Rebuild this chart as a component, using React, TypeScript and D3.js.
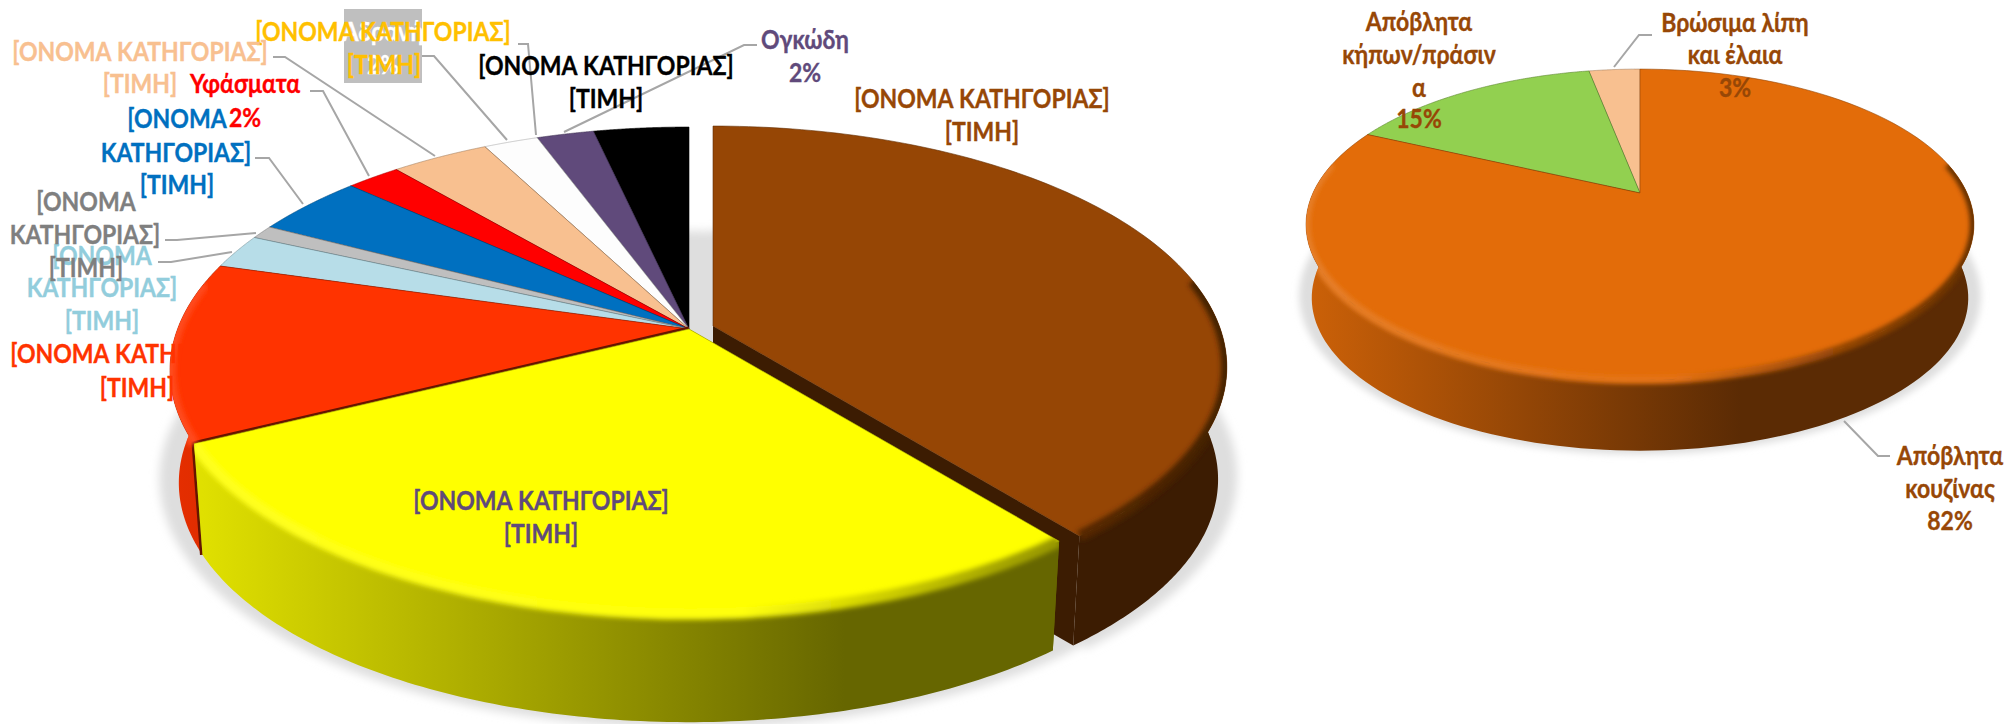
import React from 'react';
import * as d3 from 'd3';

const width = 2011;
const height = 724;

// Left pie, clockwise from the top.
const wasteColors = ['#964605', '#FFFF00', '#FF3300', '#B7DDE8', '#BFBFBF', '#0070C0', '#FF0000', '#F8C090', '#FDFDFD', '#604A7B', '#000000'];
const wasteShares = [39.2, 28.4, 11.9, 2.3, 0.9, 4.1, 2.0, 3.6, 2.0, 2.1, 3.5];

// Right pie, clockwise from the top.
const organicColors = ['#E36C09', '#92D050', '#F8C090'];
const organicShares = [82, 15, 3];

const GREY = '#A6A6A6';
const PLACEHOLDER = '[ΟΝΟΜΑ ΚΑΤΗΓΟΡΙΑΣ]';

// [text, x, y, color] (y is the centre of the line)
const labelLines: [string, number, number, string][] = [
  [PLACEHOLDER, 982, 98, '#974706'],
  ['[ΤΙΜΗ]', 982, 131, '#974706'],
  ['Ογκώδη', 805, 39, '#604A7B'],
  ['2%', 805, 72, '#604A7B'],
  [PLACEHOLDER, 606, 65, '#000000'],
  ['[ΤΙΜΗ]', 606, 98, '#000000'],
  ['Αδρανή', 383, 31, '#FFFFFF'],
  ['2%', 383, 64, '#FFFFFF'],
  [PLACEHOLDER, 383, 31, '#FFC000'],
  ['[ΤΙΜΗ]', 384, 64, '#FFC000'],
  [PLACEHOLDER, 140, 51, '#F8C090'],
  ['[ΤΙΜΗ]', 140, 83, '#F8C090'],
  ['Υφάσματα', 245, 83, '#FF0000'],
  ['2%', 245, 117, '#FF0000'],
  ['[ΟΝΟΜΑ', 177, 118, '#0070C0'],
  ['ΚΑΤΗΓΟΡΙΑΣ]', 176, 152, '#0070C0'],
  ['[ΤΙΜΗ]', 177, 184, '#0070C0'],
  ['[ΟΝΟΜΑ', 102, 255, '#92CDDC'],
  ['ΚΑΤΗΓΟΡΙΑΣ]', 102, 287, '#92CDDC'],
  ['[ΤΙΜΗ]', 102, 320, '#92CDDC'],
  ['[ΟΝΟΜΑ', 86, 201, '#7F7F7F'],
  ['ΚΑΤΗΓΟΡΙΑΣ]', 85, 234, '#7F7F7F'],
  ['[ΤΙΜΗ]', 86, 267, '#7F7F7F'],
  [PLACEHOLDER, 138, 353, '#FF3300'],
  ['[ΤΙΜΗ]', 137, 387, '#FF3300'],
  [PLACEHOLDER, 541, 500, '#604A7B'],
  ['[ΤΙΜΗ]', 541, 533, '#604A7B'],
  ['Απόβλητα', 1419, 21, '#974706'],
  ['κήπων/πράσιν', 1419, 54, '#974706'],
  ['α', 1419, 87, '#974706'],
  ['15%', 1419, 118, '#974706'],
  ['Βρώσιμα λίπη', 1735, 22, '#974706'],
  ['και έλαια', 1735, 54, '#974706'],
  ['3%', 1735, 87, '#974706'],
  ['Απόβλητα', 1950, 455, '#974706'],
  ['κουζίνας', 1950, 488, '#974706'],
  ['82%', 1950, 520, '#974706'],
];

const leaders: [number, number][][] = [
  [[273, 57], [285, 57], [435, 156]],
  [[310, 91], [323, 91], [369, 176]],
  [[255, 158], [269, 158], [303, 204]],
  [[165, 240], [177, 240], [256, 233]],
  [[158, 262], [171, 262], [232, 252]],
  [[422, 56], [434, 56], [507, 140]],
  [[518, 44], [528, 44], [536, 135]],
  [[757, 45], [744, 45], [564, 132]],
  [[1614, 67], [1639, 35], [1652, 35]],
  [[1844, 421], [1878, 456], [1890, 456]],
];

// Projection of a tilted disc: the far side shrinks, so the centre of the pie
// sits above the middle of the drawn ellipse.
type Disc = { cx: number; cy: number; rx: number; ry: number; k: number };

const project = (d: Disc, a: number): [number, number] => {
  const u = Math.sin(a);
  const v = Math.cos(a);
  const w = 1 + d.k * v;
  return [d.cx + (d.rx * u) / w, d.cy - (d.ry * v) / w];
};

const arcPoints = (d: Disc, a0: number, a1: number) =>
  d3.range(0, 121).map(i => project(d, a0 + ((a1 - a0) * i) / 120));

const line = d3.line();

const lowerPlane = (d: Disc, depth: number, scale: number): Disc => ({
  ...d,
  cy: d.cy + depth,
  rx: d.rx * scale,
  ry: d.ry * scale,
});

// Outer wall runs over the part of the rim that faces the viewer.
const wallPath = (top: Disc, bottom: Disc, a0: number, a1: number) => {
  const from = Math.max(a0, Math.PI / 2 - 0.2);
  const to = Math.min(a1, (3 * Math.PI) / 2 + 0.2);
  if (from >= to) return null;
  return line([...arcPoints(top, from, to), ...arcPoints(bottom, from, to).reverse()]) + 'Z';
};

const facePath = (d: Disc, a0: number, a1: number) =>
  line([[d.cx, d.cy], ...arcPoints(d, a0, a1)]) + 'Z';

const cutPath = (top: Disc, bottom: Disc, a: number) =>
  line([[top.cx, top.cy], project(top, a), project(bottom, a), [bottom.cx, bottom.cy]]) + 'Z';

type Slice = { color: string; a0: number; a1: number; top: Disc; bottom: Disc };

function Pie3D({ id, disc, depth, shares, colors, offsets, order, rimWidth, creased }: {
  id: string;
  disc: Disc;
  depth: number;
  shares: number[];
  colors: string[];
  offsets: Record<number, { dx: number; dy: number; scale: number }>;
  order: number[];
  rimWidth: number;
  creased: number[];
}) {
  const arcs = d3.pie<number>().sort(null)(shares);
  const slices: Slice[] = arcs.map((arc, i) => {
    const o = offsets[i] ?? { dx: 0, dy: 0, scale: 1 };
    const top: Disc = { ...disc, cx: disc.cx + o.dx, cy: disc.cy + o.dy, rx: disc.rx * o.scale, ry: disc.ry * o.scale };
    return { color: colors[i], a0: arc.startAngle, a1: arc.endAngle, top, bottom: lowerPlane(top, depth, 0.983) };
  });

  const edge = disc.rx / Math.sqrt(1 - disc.k * disc.k);
  const x0 = disc.cx - edge;
  const x1 = disc.cx + edge * 0.3;
  const shadowDepth = depth * 0.955;
  const floor = lowerPlane(disc, shadowDepth, 1.02);
  const dark = (c: string, t: number) => d3.interpolateRgb(c, '#000')(t);
  const light = (c: string, t: number) => d3.interpolateRgb(c, '#fff')(t);

  return (
    <g>
      <defs>
        <filter id={`${id}-soft`} x="-10%" y="-10%" width="120%" height="120%">
          <feGaussianBlur stdDeviation={rimWidth / 1.6} />
        </filter>
        <filter id={`${id}-rim`} x="-10%" y="-10%" width="120%" height="120%">
          <feGaussianBlur stdDeviation={rimWidth / 3} />
        </filter>
        {slices.map((s, i) => (
          <React.Fragment key={i}>
            <linearGradient id={`${id}-wall-${i}`} gradientUnits="userSpaceOnUse" x1={x0} x2={x1} y1={0} y2={0}>
              <stop offset="0" stopColor={dark(s.color, 0.1)} />
              <stop offset="1" stopColor={dark(s.color, 0.6)} />
            </linearGradient>
            <linearGradient id={`${id}-rim-${i}`} gradientUnits="userSpaceOnUse" x1={x0} x2={disc.cx + edge} y1={0} y2={0}>
              <stop offset="0" stopColor={light(s.color, 0.12)} />
              <stop offset="0.55" stopColor={light(s.color, 0.04)} />
              <stop offset="0.8" stopColor={dark(s.color, 0.35)} />
              <stop offset="1" stopColor={dark(s.color, 0.55)} />
            </linearGradient>
            <clipPath id={`${id}-clip-${i}`}>
              <path d={facePath(s.top, s.a0, s.a1) ?? ''} />
              {wallPath(s.top, s.bottom, s.a0, s.a1) && <path d={wallPath(s.top, s.bottom, s.a0, s.a1) ?? ''} />}
            </clipPath>
          </React.Fragment>
        ))}
      </defs>

      {/* soft shadow on the floor */}
      <g fill="#DEDEDE" filter={`url(#${id}-soft)`}>
        <path d={line(arcPoints(floor, 0, 2 * Math.PI)) + 'Z'} />
        {slices.map((s, i) => (
          <path key={i} d={facePath(lowerPlane(s.top, shadowDepth, 1.02), s.a0, s.a1) ?? ''} />
        ))}
      </g>

      {order.map(i => {
        const s = slices[i];
        const wall = wallPath(s.top, s.bottom, s.a0, s.a1);
        const a0 = Math.max(s.a0, Math.PI / 2 - 0.2);
        const a1 = Math.min(s.a1, (3 * Math.PI) / 2 + 0.2);
        const rim = a0 < a1 ? line(arcPoints(s.top, a0, a1)) ?? '' : null;
        return (
          <g key={i}>
            {/* cut sides of the slice, only seen where a neighbour does not hide them */}
            <path d={cutPath(s.top, s.bottom, s.a0) ?? ''} fill={dark(s.color, 0.6)} />
            <path d={cutPath(s.top, s.bottom, s.a1) ?? ''} fill={dark(s.color, 0.6)} />
            {wall && <path d={wall} fill={`url(#${id}-wall-${i})`} />}
            <path d={facePath(s.top, s.a0, s.a1) ?? ''} fill={s.color} stroke={dark(s.color, 0.35)} strokeWidth={0.6} />
            {creased.includes(i) && (
              <path
                d={line([[s.top.cx, s.top.cy], project(s.top, s.a0), project(s.bottom, s.a0)]) ?? ''}
                fill="none"
                stroke={dark(s.color, 0.6)}
                strokeWidth={5}
              />
            )}
            {rim && (
              <g clipPath={`url(#${id}-clip-${i})`}>
                <path d={rim} fill="none" stroke={`url(#${id}-rim-${i})`} strokeWidth={rimWidth * 1.4} filter={`url(#${id}-rim)`} />
              </g>
            )}
          </g>
        );
      })}
    </g>
  );
}

export default function App() {
  const leftDisc: Disc = { cx: 689, cy: 329, rx: 511.4, ry: 236.4, k: 0.1705 };
  const rightDisc: Disc = { cx: 1640, cy: 193, rx: 327, ry: 149, k: 0.2026 };

  return (
    <svg
      width={width}
      height={height}
      viewBox={`0 0 ${width} ${height}`}
      style={{ position: 'absolute', left: 0, top: 0, background: '#fff' }}
      fontFamily="Lato, 'Open Sans', sans-serif"
      fontWeight={700}
      fontSize={26}
    >
      <Pie3D
        id="waste"
        disc={leftDisc}
        depth={113}
        shares={wasteShares}
        colors={wasteColors}
        offsets={{ 0: { dx: 24, dy: -3, scale: 0.99 } }}
        order={[10, 9, 8, 7, 6, 5, 4, 3, 2, 0, 1]}
        rimWidth={8}
        creased={[2]}
      />
      <Pie3D
        id="organic"
        disc={rightDisc}
        depth={74}
        shares={organicShares}
        colors={organicColors}
        offsets={{}}
        order={[2, 1, 0]}
        rimWidth={6}
        creased={[]}
      />

      <rect x={344} y={9} width={78} height={74} fill="#BFBFBF" />
      {leaders.map((pts, i) => (
        <path key={i} d={line(pts) ?? ''} fill="none" stroke={GREY} strokeWidth={2} />
      ))}
      {labelLines.map(([text, x, y, color], i) => (
        <text
          key={i}
          transform={`translate(${x},${y}) scale(0.885,1)`}
          fill={color}
          stroke={color}
          strokeWidth={0.35}
          textAnchor="middle"
          dominantBaseline="central"
        >
          {text}
        </text>
      ))}
    </svg>
  );
}
